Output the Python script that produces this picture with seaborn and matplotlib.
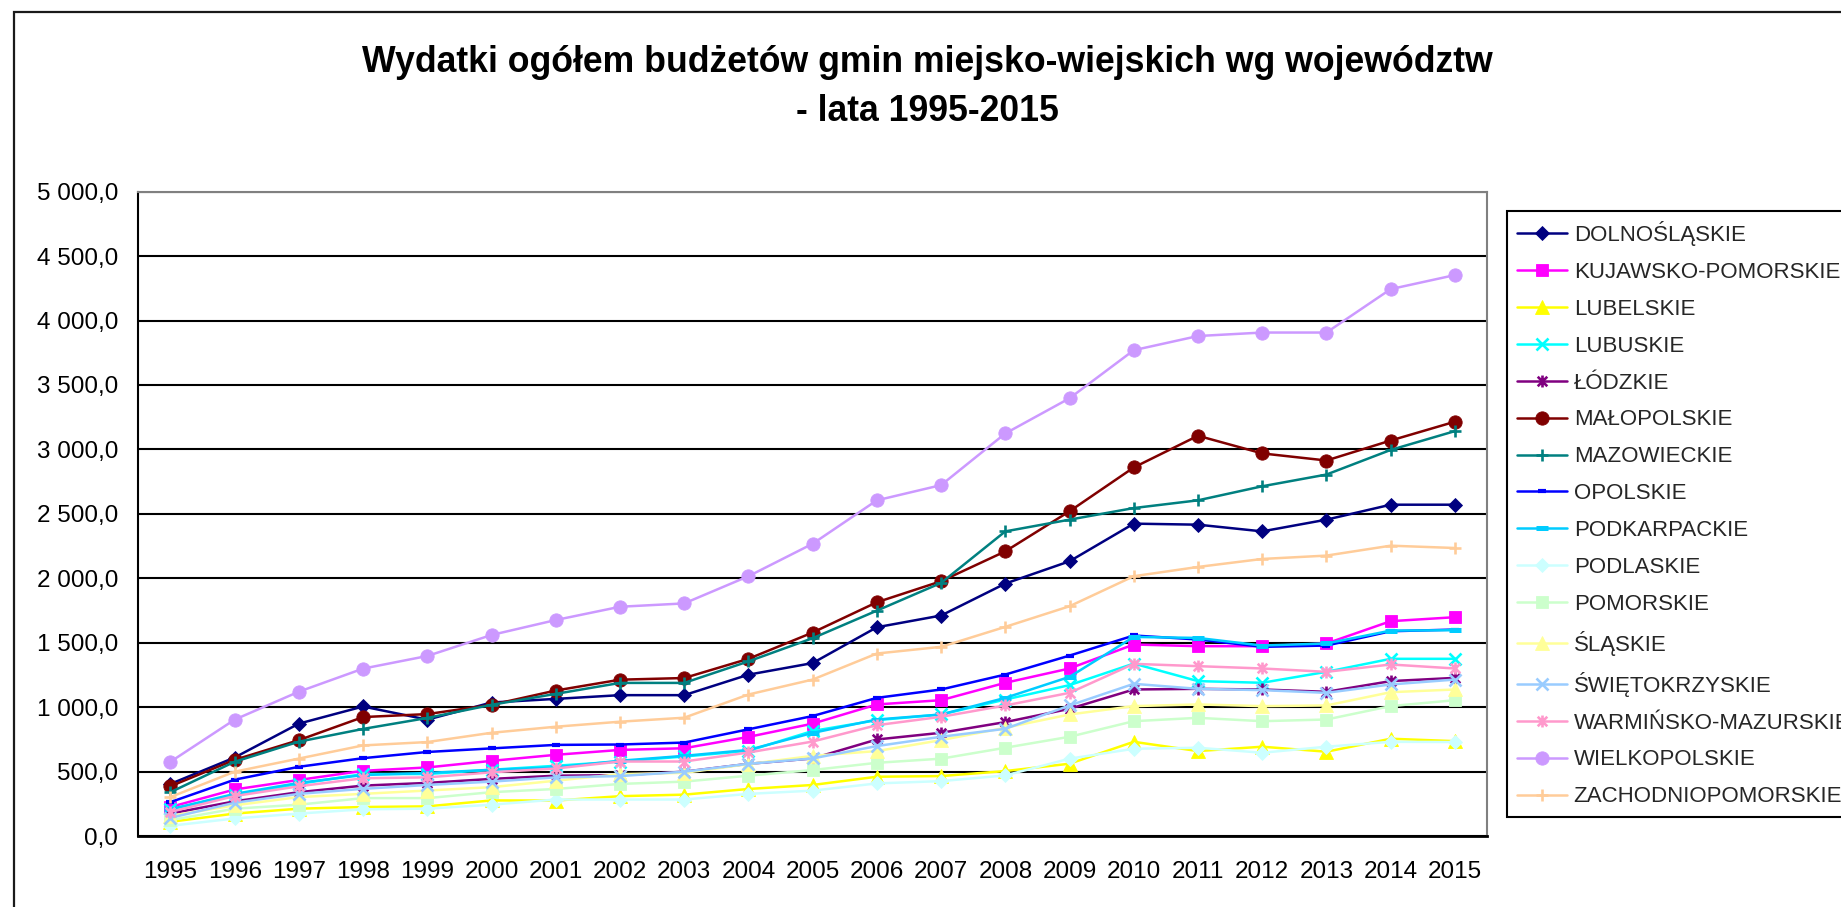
import matplotlib
matplotlib.use("Agg")
import matplotlib.pyplot as plt
from matplotlib.path import Path
from matplotlib.patches import Rectangle
from matplotlib.ticker import FuncFormatter
import seaborn as sns

# Lata i wydatki ogółem (mln zł) budżetów gmin miejsko-wiejskich
lata = list(range(1995, 2016))

dolnoslaskie = [404, 609, 872, 1005, 903, 1036, 1064, 1093, 1093, 1252, 1342,
                1620, 1711, 1959, 2132, 2424, 2416, 2364, 2455, 2571, 2571]
kujawsko_pomorskie = [225, 361, 435, 506, 532, 583, 630, 668, 681, 769, 872,
                      1021, 1054, 1189, 1300, 1486, 1473, 1473, 1494, 1667, 1698]
lubelskie = [110, 174, 212, 225, 230, 276, 275, 309, 321, 365, 396,
             460, 465, 504, 561, 731, 659, 693, 654, 755, 736]
lubuskie = [207, 320, 404, 481, 481, 514, 545, 578, 617, 661, 815,
            899, 943, 1059, 1171, 1338, 1202, 1189, 1274, 1375, 1375]
lodzkie = [174, 269, 340, 391, 412, 443, 468, 472, 499, 560, 602,
           749, 801, 884, 987, 1137, 1142, 1137, 1119, 1202, 1227]
malopolskie = [386, 591, 744, 923, 946, 1018, 1129, 1213, 1226, 1375, 1579,
               1814, 1977, 2209, 2520, 2860, 3106, 2969, 2914, 3069, 3215]
mazowieckie = [340, 576, 732, 831, 916, 1018, 1103, 1188, 1188, 1355, 1535,
               1749, 1964, 2364, 2455, 2545, 2605, 2714, 2805, 2996, 3142]
opolskie = [263, 437, 537, 604, 652, 680, 707, 710, 725, 828, 931,
            1072, 1137, 1253, 1400, 1556, 1525, 1468, 1478, 1589, 1602]
podkarpackie = [207, 327, 412, 473, 489, 514, 532, 584, 622, 668, 800,
                904, 943, 1072, 1235, 1545, 1537, 1478, 1494, 1594, 1597]
podlaskie = [79, 136, 174, 207, 212, 243, 283, 283, 283, 327, 352,
             408, 426, 470, 600, 677, 685, 646, 693, 731, 729]
pomorskie = [123, 212, 243, 294, 294, 340, 365, 404, 422, 468, 512,
             568, 600, 685, 770, 891, 917, 891, 904, 1008, 1054]
slaskie = [156, 238, 302, 327, 353, 379, 429, 480, 490, 558, 622,
           659, 744, 840, 943, 1008, 1021, 1008, 1013, 1116, 1137]
swietokrzyskie = [141, 258, 327, 366, 396, 422, 455, 465, 499, 560, 602,
                  698, 770, 832, 1013, 1181, 1142, 1132, 1111, 1176, 1214]
warminsko_mazurskie = [187, 310, 386, 448, 455, 494, 524, 578, 578, 648, 733,
                       860, 925, 1013, 1111, 1336, 1318, 1300, 1274, 1331, 1300]
wielkopolskie = [576, 903, 1120, 1299, 1397, 1560, 1676, 1779, 1805, 2016, 2268,
                 2605, 2723, 3124, 3397, 3770, 3880, 3907, 3907, 4244, 4353]
zachodniopomorskie = [302, 499, 601, 703, 729, 801, 848, 887, 918, 1098, 1214,
                      1416, 1468, 1623, 1783, 2016, 2088, 2150, 2176, 2253, 2235]

wojewodztwa = ["DOLNOŚLĄSKIE", "KUJAWSKO-POMORSKIE", "LUBELSKIE", "LUBUSKIE",
               "ŁÓDZKIE", "MAŁOPOLSKIE", "MAZOWIECKIE", "OPOLSKIE",
               "PODKARPACKIE", "PODLASKIE", "POMORSKIE", "ŚLĄSKIE",
               "ŚWIĘTOKRZYSKIE", "WARMIŃSKO-MAZURSKIE", "WIELKOPOLSKIE",
               "ZACHODNIOPOMORSKIE"]
wartosci = [dolnoslaskie, kujawsko_pomorskie, lubelskie, lubuskie, lodzkie,
            malopolskie, mazowieckie, opolskie, podkarpackie, podlaskie,
            pomorskie, slaskie, swietokrzyskie, warminsko_mazurskie,
            wielkopolskie, zachodniopomorskie]

sns.set_style("white")
plt.rcParams["font.family"] = ["Liberation Sans", "DejaVu Sans"]

# asterisk marker: vertical bar plus a diagonal cross
gwiazdka = Path([(0, -1), (0, 1), (-0.8, -0.8), (0.8, 0.8), (-0.8, 0.8), (0.8, -0.8)],
                [Path.MOVETO, Path.LINETO] * 3)

# (colour, marker, marker size, filled, marker edge width)
style = [
    ("#000080", "D", 7.0, True, 0.6),
    ("#FF00FF", "s", 9.0, True, 0.6),
    ("#FFFF00", "^", 10.0, True, 0.6),
    ("#00FFFF", "x", 8.6, False, 1.9),
    ("#800080", gwiazdka, 8.6, False, 1.9),
    ("#800000", "o", 9.6, True, 0.6),
    ("#008080", "+", 9.0, False, 1.9),
    ("#0000FF", "_", 6.0, False, 3.0),
    ("#00CCFF", "_", 9.0, False, 3.6),
    ("#CCFFFF", "D", 7.0, True, 0.6),
    ("#CCFFCC", "s", 9.0, True, 0.6),
    ("#FFFF99", "^", 10.0, True, 0.6),
    ("#99CCFF", "x", 8.6, False, 1.9),
    ("#FF99CC", gwiazdka, 8.6, False, 1.9),
    ("#CC99FF", "o", 9.6, True, 0.6),
    ("#FFCC99", "+", 9.0, False, 1.9),
]

fig = plt.figure(figsize=(18.41, 9.07), dpi=100)
fig.patch.set_facecolor("white")
ax = fig.add_axes([138.3 / 1841, 1 - 836 / 907, (1487 - 138.3) / 1841, (836 - 191.7) / 907])

for nazwa, y, (kolor, znak, ms, pelny, mew) in zip(wojewodztwa, wartosci, style):
    sns.lineplot(x=lata, y=y, ax=ax, color=kolor, marker=znak, markersize=ms,
                 markeredgecolor=kolor, markerfacecolor=kolor if pelny else "none",
                 markeredgewidth=mew, linewidth=1.8, label=nazwa, errorbar=None)

if ax.get_legend() is not None:
    ax.get_legend().remove()
ax.set_xlabel("")
ax.set_ylabel("")

ax.set_xlim(1994.5, 2015.5)
ax.set_ylim(0, 5000)
ax.set_xticks(lata)
ax.set_xticklabels([str(r) for r in lata])
ax.set_xticks([r - 0.5 for r in lata] + [2015.5], minor=True)
ax.set_yticks(range(0, 5001, 500))
ax.yaxis.set_major_formatter(FuncFormatter(
    lambda v, p: f"{v:,.1f}".replace(",", " ").replace(".", ",")))

ax.tick_params(axis="x", which="major", length=0, pad=18, labelsize=17.5, colors="black")
ax.tick_params(axis="x", which="minor", length=7, width=1.5, direction="out", color="black")
ax.tick_params(axis="y", which="major", length=6.5, width=1.5, direction="out",
               pad=8, labelsize=17.5, colors="black")

ax.set_axisbelow(True)
ax.yaxis.grid(True, color="black", linewidth=1.5)
ax.xaxis.grid(False)
for s in ("left", "bottom"):
    ax.spines[s].set_color("black")
ax.spines["left"].set_linewidth(1.5)
ax.spines["bottom"].set_linewidth(2.0)
for s in ("top", "right"):
    ax.spines[s].set_color("#808080")
    ax.spines[s].set_linewidth(1.5)

handles, labels = ax.get_legend_handles_labels()
leg = fig.legend(handles, labels, loc="upper left",
                 bbox_to_anchor=(1507 / 1841, 1 - 211 / 907),
                 bbox_transform=fig.transFigure, frameon=True, fancybox=False,
                 shadow=False, fontsize=16, handlelength=2.25, handletextpad=0.3,
                 labelspacing=0.715, borderpad=0.45, borderaxespad=0)
leg.get_frame().set_edgecolor("black")
leg.get_frame().set_linewidth(1.5)
leg.get_frame().set_alpha(1)

# two-line chart title
fig.text(0.5036, 1 - 62.5 / 907,
         "Wydatki ogółem budżetów gmin miejsko-wiejskich wg województw",
         ha="center", va="center", fontsize=25.7, fontweight="bold", color="black")
fig.text(0.5036, 1 - 111.5 / 907, "- lata 1995-2015",
         ha="center", va="center", fontsize=25.7, fontweight="bold", color="black")

# chart area frame
fig.patches.append(Rectangle((14 / 1841, -0.5), 2.0, 1.5 - 12 / 907,
                             transform=fig.transFigure, fill=False,
                             edgecolor="#1a1a1a", linewidth=1.6))

fig.savefig("out.png", dpi=100)
